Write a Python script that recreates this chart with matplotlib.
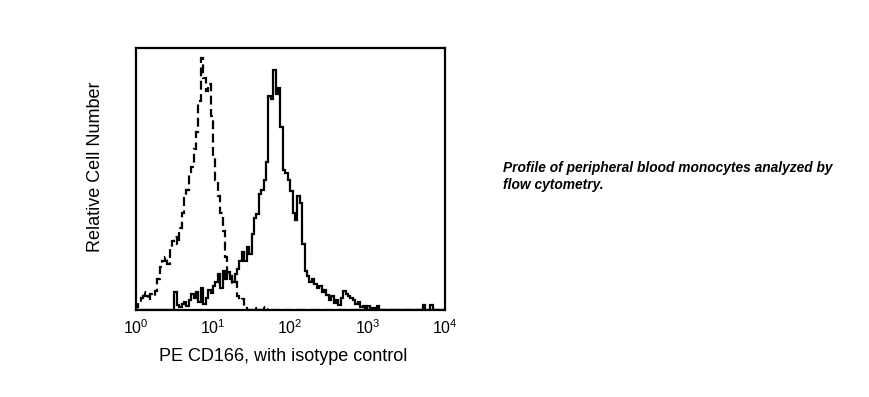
import numpy as np
import matplotlib.pyplot as plt

plt.rcParams['font.family'] = ['Liberation Sans', 'DejaVu Sans']

# 128 log-spaced channels over 10^0 .. 10^4
n_bins = 128
edges = 10 ** (np.arange(n_bins + 1) * 4.0 / n_bins)

# isotype control (dashed), channels 0..63, rest empty
isotype_counts = [3, 8, 12, 18, 14, 10, 16, 14, 19, 30, 42, 48, 52, 45, 60, 68,
                  72, 65, 80, 95, 110, 118, 132, 140, 158, 175, 205, 247, 228, 215, 222, 190,
                  150, 128, 112, 95, 78, 52, 35, 30, 26, 28, 14, 10, 11, 2, 0, 0,
                  0, 2, 0, 0, 3, 0, 0, 2, 0, 0, 0, 0, 0, 0, 0, 0]
isotype = np.zeros(n_bins)
isotype[:len(isotype_counts)] = isotype_counts

# PE CD166 (solid), starting at channel 16
cd166_start = 16
cd166_counts = [18, 5, 3, 6, 8, 4, 10, 16, 12, 18, 8, 22, 6, 12, 20, 17,
                24, 28, 35, 22, 38, 30, 37, 33, 28, 35, 40, 48, 57, 48, 62, 55,
                75, 90, 94, 114, 118, 128, 145, 210, 207, 235, 212, 218, 180, 137, 134, 128,
                117, 95, 88, 112, 105, 65, 38, 33, 28, 30, 26, 22, 24, 18, 20, 15,
                10, 14, 7, 10, 5, 12, 19, 16, 14, 12, 10, 6, 8, 3, 4, 0,
                4, 0, 2, 0, 4, 0, 0, 0, 0, 0, 0, 0, 0, 0, 0, 0,
                0, 0, 0, 0, 0, 0, 0, 5, 0, 0, 5, 0, 0, 0, 0, 0]
cd166 = np.zeros(n_bins)
cd166[cd166_start:cd166_start + len(cd166_counts)] = cd166_counts[:n_bins - cd166_start]

fig = plt.figure(figsize=(8.7, 3.97), dpi=100)
ax = fig.add_axes([0.156, 0.219, 0.355, 0.66])

ax.stairs(isotype, edges, color='black', linewidth=1.6, linestyle=(0, (4, 2)))
ax.stairs(cd166, edges, color='black', linewidth=1.6)

ax.set_xscale('log')
ax.set_xlim(1, 1e4)
ax.set_ylim(0, 257)
ax.set_xticks([1, 10, 100, 1000, 10000])
ax.set_yticks([])
ax.tick_params(axis='x', length=0, pad=6, labelsize=11.5)
ax.minorticks_off()
for s in ax.spines.values():
    s.set_linewidth(1.6)

ax.set_xlabel('PE CD166, with isotype control', fontsize=13)
ax.set_ylabel('Relative Cell Number', fontsize=13)
ax.xaxis.set_label_coords(0.479, -0.143)
ax.yaxis.set_label_coords(-0.103, 0.546)

fig.text(0.578, 0.594, 'Profile of peripheral blood monocytes analyzed by\nflow cytometry.',
         fontsize=9.9, fontweight='bold', fontstyle='italic', va='top', ha='left',
         linespacing=1.3)

plt.savefig('out.png', dpi=100)
